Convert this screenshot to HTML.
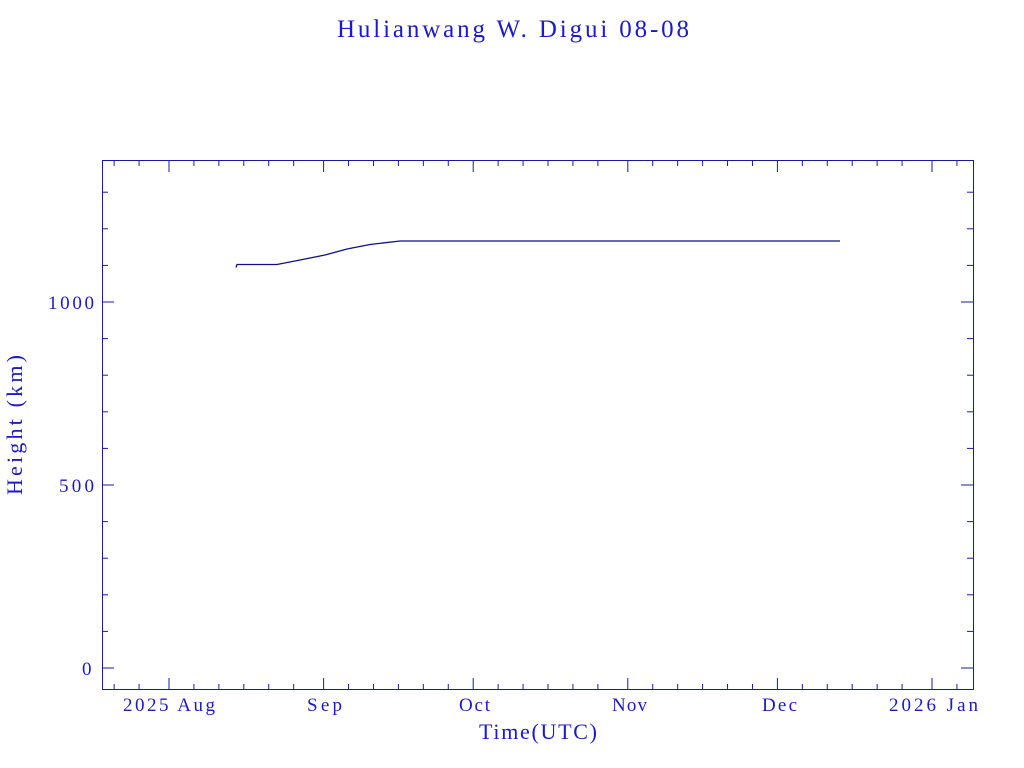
<!DOCTYPE html>
<html><head><meta charset="utf-8"><style>
html,body{margin:0;padding:0;background:#fff;width:1024px;height:768px;overflow:hidden}
text{font-family:"Liberation Serif",serif;fill:#1a1ac8}
</style></head><body>
<svg id="s" width="1024" height="768" xmlns="http://www.w3.org/2000/svg">
<text x="337" y="37" font-size="25" textLength="352" lengthAdjust="spacing">Hulianwang W. Digui 08-08</text>
<rect x="102.5" y="160.5" width="871" height="529" fill="none" stroke="#1a1aa0" stroke-width="1"/>
<g id="t" stroke="#1a1aa0" stroke-width="1"></g>
<g font-size="19">
<text x="48" y="309" textLength="46" lengthAdjust="spacing">1000</text>
<text x="59" y="492" textLength="35" lengthAdjust="spacing">500</text>
<text x="82" y="675" textLength="12" lengthAdjust="spacing">0</text>
<text x="123" y="711" textLength="92" lengthAdjust="spacing">2025 Aug</text>
<text x="307" y="711" textLength="35" lengthAdjust="spacing">Sep</text>
<text x="459" y="711" textLength="31" lengthAdjust="spacing">Oct</text>
<text x="612" y="711" textLength="35" lengthAdjust="spacing">Nov</text>
<text x="762" y="711" textLength="35" lengthAdjust="spacing">Dec</text>
<text x="889" y="711" textLength="89" lengthAdjust="spacing">2026 Jan</text>
</g>
<text x="479" y="739" font-size="22" textLength="118" lengthAdjust="spacing">Time(UTC)</text>
<text transform="translate(22,495) rotate(-90)" font-size="22" textLength="140" lengthAdjust="spacing">Height (km)</text>
<polyline fill="none" stroke="#0f0f8f" stroke-width="1.3" points="236,267.5 237,264.5 277,264.5 300,260 325,255 347,249 370,244.5 400,241 840,241"/>
</svg>
<script>
var g=document.getElementById('t'),h='';
function L(x1,y1,x2,y2){h+='<line x1="'+x1+'" y1="'+y1+'" x2="'+x2+'" y2="'+y2+'"/>';}
var ppd=(932-169)/153, x0=169;
var months=[[-31,31],[0,31],[31,30],[61,31],[92,30],[122,31],[153,31]];
months.forEach(function(m){
  var d0=m[0];
  var xm=x0+d0*ppd;
  if(xm>102&&xm<973){L(xm,690,xm,678);L(xm,160,xm,172);}
  for(var k=5;k<m[1]-3;k+=5){var x=x0+(d0+k)*ppd; if(x>103&&x<972){L(x,690,x,684);L(x,160,x,166);}}
});
for(var v=-0;v<=1300;v+=100){var y=668-v*0.366;var len=(v%500==0)?12:6;L(102,y,102+len,y);L(973,y,973-len,y);}
g.innerHTML=h;
</script>
</body></html>
